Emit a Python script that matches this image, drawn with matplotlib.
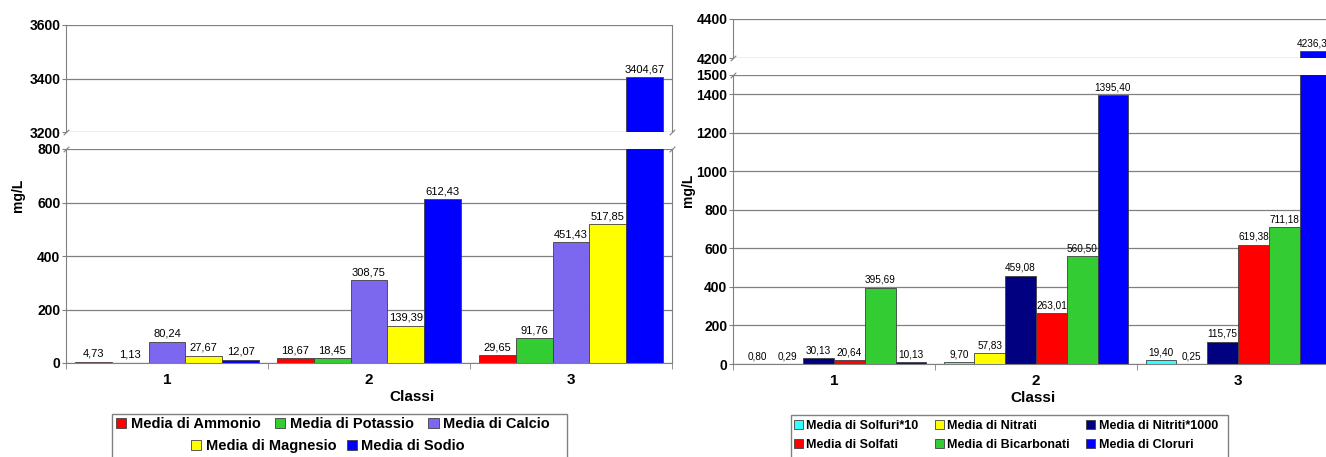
import matplotlib.pyplot as plt
from matplotlib.patches import Patch, Rectangle
import numpy as np

plt.rcParams['font.family'] = ['Liberation Sans', 'DejaVu Sans']

# --- data ---------------------------------------------------------------
classes = ['1', '2', '3']

left_series = ['Media di Ammonio', 'Media di Potassio', 'Media di Calcio',
               'Media di Magnesio', 'Media di Sodio']
left_colors = ['#ff0000', '#33cc33', '#7b68ee', '#ffff00', '#0000ff']
ammonio = [4.73, 18.67, 29.65]
potassio = [1.13, 18.45, 91.76]
calcio = [80.24, 308.75, 451.43]
magnesio = [27.67, 139.39, 517.85]
sodio = [12.07, 612.43, 3404.67]
left_values = [ammonio, potassio, calcio, magnesio, sodio]

right_series = ['Media di Solfuri*10', 'Media di Nitrati', 'Media di Nitriti*1000',
                'Media di Solfati', 'Media di Bicarbonati', 'Media di Cloruri']
right_colors = ['#33ffff', '#ffff00', '#000080', '#ff0000', '#33cc33', '#0000ff']
solfuri10 = [0.80, 9.70, 19.40]
nitrati = [0.29, 57.83, 0.25]
nitriti1000 = [30.13, 459.08, 115.75]
solfati = [20.64, 263.01, 619.38]
bicarbonati = [395.69, 560.50, 711.18]
cloruri = [10.13, 1395.40, 4236.39]
right_values = [solfuri10, nitrati, nitriti1000, solfati, bicarbonati, cloruri]

W, H = 1326, 457
fig = plt.figure(figsize=(W / 100, H / 100), dpi=100)
GRAY = '#808080'
EDGE = '#404040'


def ax_at(x0, y0, x1, y1):
    return fig.add_axes([x0 / W, 1 - y1 / H, (x1 - x0) / W, (y1 - y0) / H])


def fmt(v):
    return f"{v:.2f}".replace('.', ',')


def broken_panel(box, top_lim, bot_lim, top_ticks, bot_ticks,
                 series_vals, colors, width_frac, lab_size):
    x0, x1, yt0, yt1, yb0, yb1 = box
    ax_top = ax_at(x0, yt0, x1, yt1)
    ax_bot = ax_at(x0, yb0, x1, yb1)
    n = len(series_vals)
    bw = width_frac / n
    centers = np.arange(len(classes)) + 0.5
    for ax, lim, ticks in ((ax_top, top_lim, top_ticks), (ax_bot, bot_lim, bot_ticks)):
        ax.set_xlim(0, len(classes))
        ax.set_ylim(*lim)
        ax.set_yticks(ticks)
        ax.set_yticklabels([str(t) for t in ticks], fontsize=10, fontweight='bold')
        ax.yaxis.grid(True, color=GRAY, lw=0.9)
        ax.set_axisbelow(True)
        ax.tick_params(axis='y', length=3, color=GRAY, pad=1)
        for s in ('top', 'bottom'):
            ax.spines[s].set_visible(False)
        for s in ('left', 'right'):
            ax.spines[s].set_color(GRAY)
        for i, (vals, c) in enumerate(zip(series_vals, colors)):
            xs = centers - width_frac / 2 + bw * (i + 0.5)
            ax.bar(xs, vals, bw, color=c, edgecolor=EDGE, linewidth=0.6)
    ax_top.set_xticks([])
    ax_bot.spines['bottom'].set_visible(True)
    ax_bot.spines['bottom'].set_color(GRAY)
    ax_bot.set_xticks(centers)
    ax_bot.set_xticklabels(classes, fontsize=11, fontweight='bold')
    ax_bot.set_xticks(np.arange(len(classes) + 1), minor=True)
    ax_bot.tick_params(axis='x', which='major', length=0, pad=7)
    ax_bot.tick_params(axis='x', which='minor', length=4, color=GRAY)

    # value labels
    for i, vals in enumerate(series_vals):
        xs = centers - width_frac / 2 + bw * (i + 0.5)
        for x, v in zip(xs, vals):
            ax = ax_top if v > bot_lim[1] else ax_bot
            ax.annotate(fmt(v), (x, v), xytext=(0, 2), textcoords='offset points',
                        ha='center', va='bottom', fontsize=lab_size)

    # break marks
    for ax, y in ((ax_top, 0), (ax_bot, 1)):
        for xx in (0, 1):
            ax.plot([xx], [y], transform=ax.transAxes, marker=[(-1, -1), (1, 1)],
                    markersize=4, color=GRAY, mew=0.8, clip_on=False)
    return ax_top, ax_bot


broken_panel((66, 672, 25, 132, 149, 363), (3200, 3600), (0, 800),
             [3200, 3400, 3600], [0, 200, 400, 600, 800],
             left_values, left_colors, 0.91, 8)
broken_panel((733, 1339, 19, 58, 75, 364), (4200, 4400), (0, 1500),
             [4200, 4400], [0, 200, 400, 600, 800, 1000, 1200, 1400, 1500],
             right_values, right_colors, 0.915, 7.2)

# axis titles
fig.text(18 / W, 1 - 195 / H, 'mg/L', rotation=90, ha='center', va='center',
         fontsize=10, fontweight='bold')
fig.text(688 / W, 1 - 190 / H, 'mg/L', rotation=90, ha='center', va='center',
         fontsize=10, fontweight='bold')
fig.text(412 / W, 1 - 397 / H, 'Classi', ha='center', va='center',
         fontsize=11, fontweight='bold')
fig.text(1033 / W, 1 - 398 / H, 'Classi', ha='center', va='center',
         fontsize=11, fontweight='bold')

# legends
lh = [Patch(facecolor=c, edgecolor=EDGE, linewidth=0.6) for c in left_colors]
leg_kw = dict(frameon=False, handlelength=0.7, handleheight=0.7,
              handletextpad=0.3, borderpad=0, borderaxespad=0)
fig.legend(lh[:3], left_series[:3], ncol=3, loc='center',
           bbox_to_anchor=(333 / W, 1 - 424 / H), columnspacing=1.0,
           prop=dict(size=10.5, weight='bold'), **leg_kw)
fig.legend(lh[3:], left_series[3:], ncol=2, loc='center',
           bbox_to_anchor=(328 / W, 1 - 446 / H), columnspacing=0.7,
           prop=dict(size=10.5, weight='bold'), **leg_kw)
fig.add_artist(Rectangle((112 / W, -0.02), (567 - 112) / W, (457 - 414) / H + 0.02,
                         transform=fig.transFigure, fill=False, edgecolor=GRAY, lw=1))

rh = [Patch(facecolor=c, edgecolor=EDGE, linewidth=0.6) for c in right_colors]
order = [0, 3, 1, 4, 2, 5]
fig.legend([rh[k] for k in order], [right_series[k] for k in order], ncol=3,
           loc='center', bbox_to_anchor=(1006 / W, 1 - 435.5 / H),
           columnspacing=1.3, labelspacing=0.55,
           prop=dict(size=9, weight='bold'), **leg_kw)
fig.add_artist(Rectangle((791 / W, -0.02), (1228 - 791) / W, (457 - 415) / H + 0.02,
                         transform=fig.transFigure, fill=False, edgecolor=GRAY, lw=1))

fig.savefig('out.png', dpi=100)
